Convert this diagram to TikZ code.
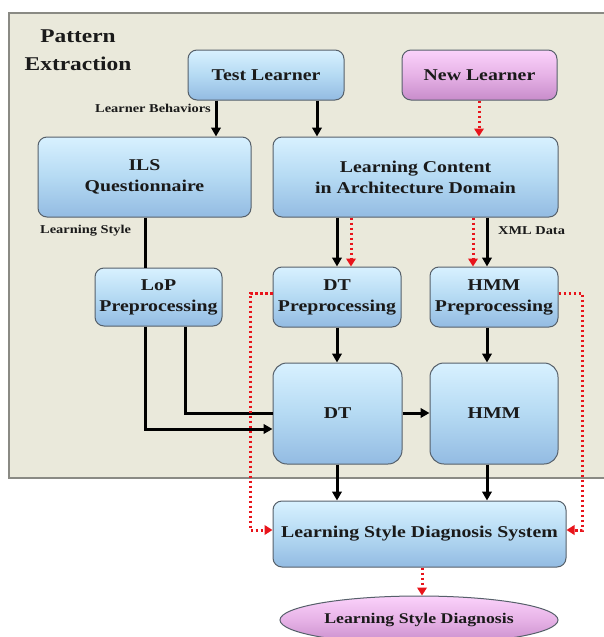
\documentclass[tikz,border=0pt]{standalone}
\usepackage{fontspec}
\setmainfont{Liberation Serif}
\newfontfamily\wideserif[FakeStretch=1.2]{Liberation Serif}
\usetikzlibrary{arrows.meta,shapes.geometric,calc}
\definecolor{panelbg}{HTML}{EAE9DB}
\definecolor{panelbd}{HTML}{8A8A84}
\definecolor{boxbd}{HTML}{56606A}
\definecolor{btop}{HTML}{D8F1FF}
\definecolor{bmid}{HTML}{B5DAF3}
\definecolor{bbot}{HTML}{93BBE2}
\definecolor{ptop}{HTML}{FBD2FB}
\definecolor{pmid}{HTML}{E6B2E6}
\definecolor{pbot}{HTML}{C88CCB}
\definecolor{dred}{HTML}{E8141B}
\definecolor{txt}{HTML}{1A1A1A}
\tikzset{
  box/.style={rectangle, rounded corners=9pt, draw=boxbd, line width=1pt,
    top color=btop, bottom color=bbot, middle color=bmid, text=txt,
    align=center, font=\wideserif\bfseries\fontsize{16.5}{21}\selectfont, inner sep=0pt},
  pinkbox/.style={box, top color=ptop, bottom color=pbot, middle color=pmid},
  arr/.style={line width=3pt, -{Triangle[length=9pt,width=9.5pt]}},
  plain/.style={line width=3pt},
  redarr/.style={draw=dred, line width=3pt, dash pattern=on 2.6pt off 2.4pt,
    -{Triangle[length=8pt,width=9.5pt,fill=dred]}},
  lbl/.style={font=\wideserif\bfseries\fontsize{12}{14}\selectfont, inner sep=0pt, text=txt}
}
\begin{document}
\begin{tikzpicture}[x=1pt,y=-1pt]
\useasboundingbox (0,0) rectangle (603,637);
\fill[white] (0,0) rectangle (603,637);
\draw[panelbd, fill=panelbg, line width=1.2pt] (9,13) rectangle (610,478);
\node[font=\wideserif\bfseries\fontsize{19.5}{28}\selectfont, align=center, text=txt] (title) at (78,50) {Pattern\\Extraction};

\node[box, minimum width=156pt, minimum height=50pt] (test) at (266,75) {Test Learner};
\node[pinkbox, minimum width=155pt, minimum height=50pt] (new) at (479.5,75) {New Learner};
\node[box, minimum width=213pt, minimum height=80pt] (ils) at (144.5,177) {ILS\\Questionnaire};
\node[box, minimum width=285pt, minimum height=80pt] (lc) at (415.5,177) {Learning Content\\in Architecture Domain};
\node[box, minimum width=127pt, minimum height=58pt] (lop) at (158.5,297) {LoP\\Preprocessing};
\node[box, minimum width=128pt, minimum height=60pt] (dtp) at (337,297) {DT\\Preprocessing};
\node[box, minimum width=128pt, minimum height=60pt] (hmmp) at (494,297) {HMM\\Preprocessing};
\node[box, minimum width=129pt, minimum height=101pt, rounded corners=14pt] (dt) at (337.5,413.5) {DT};
\node[box, minimum width=128pt, minimum height=101pt, rounded corners=14pt] (hmm) at (494,413.5) {HMM};
\node[box, minimum width=293pt, minimum height=66pt] (lsds) at (419.5,534) {Learning Style Diagnosis System};
\node[ellipse, draw=boxbd, line width=1pt, top color=ptop, bottom color=pbot, middle color=pmid,
  minimum width=278pt, minimum height=48pt, inner sep=0pt, text=txt,
  font=\wideserif\bfseries\fontsize{14.8}{18}\selectfont] (diag) at (419,620) {Learning Style Diagnosis};

% black connectors
\draw[arr] (test.south -| 216,0) -- (ils.north -| 216,0);
\node[lbl, anchor=east] (lb) at (211,108) {Learner Behaviors};
\draw[arr] (test.south -| 317,0) -- (lc.north -| 317,0);
\draw[plain] (ils.south -| 145,0) -- (lop.north -| 145,0);
\node[lbl, anchor=west] (ls) at (40,231) {Learning Style};
\draw[arr] (lc.south -| 337,0) -- (dtp.north -| 337,0);
\draw[arr] (lc.south -| 487,0) -- (hmmp.north -| 487,0);
\node[lbl, anchor=west] (xml) at (498,231) {XML Data};
\draw[arr] (lop.south -| 145,0) |- (dt.west |- 0,429);
\draw[plain] (lop.south -| 185,0) |- (dt.west |- 0,413);
\draw[arr] (dtp.south -| 337,0) -- (dt.north -| 337,0);
\draw[arr] (hmmp.south -| 487,0) -- (hmm.north -| 487,0);
\draw[arr] (dt.east |- 0,413) -- (hmm.west |- 0,413);
\draw[arr] (dt.south -| 337,0) -- (lsds.north -| 337,0);
\draw[arr] (hmm.south -| 487,0) -- (lsds.north -| 487,0);

% red dotted connectors
\draw[redarr] (new.south -| 479,0) -- (lc.north -| 479,0);
\draw[redarr] (lc.south -| 351,0) -- (dtp.north -| 351,0);
\draw[redarr] (lc.south -| 473,0) -- (hmmp.north -| 473,0);
\coordinate (lcorner) at (250,293);
\coordinate (rcorner) at (582,293);
\draw[redarr] (dtp.west |- 0,293) -- (lcorner) |- (lsds.west |- 0,530);
\draw[redarr] (hmmp.east |- 0,293) -- (rcorner) |- (lsds.east |- 0,530);
\draw[redarr] (lsds.south -| 422,0) -- (diag.north -| 422,0);
\end{tikzpicture}
\end{document}
